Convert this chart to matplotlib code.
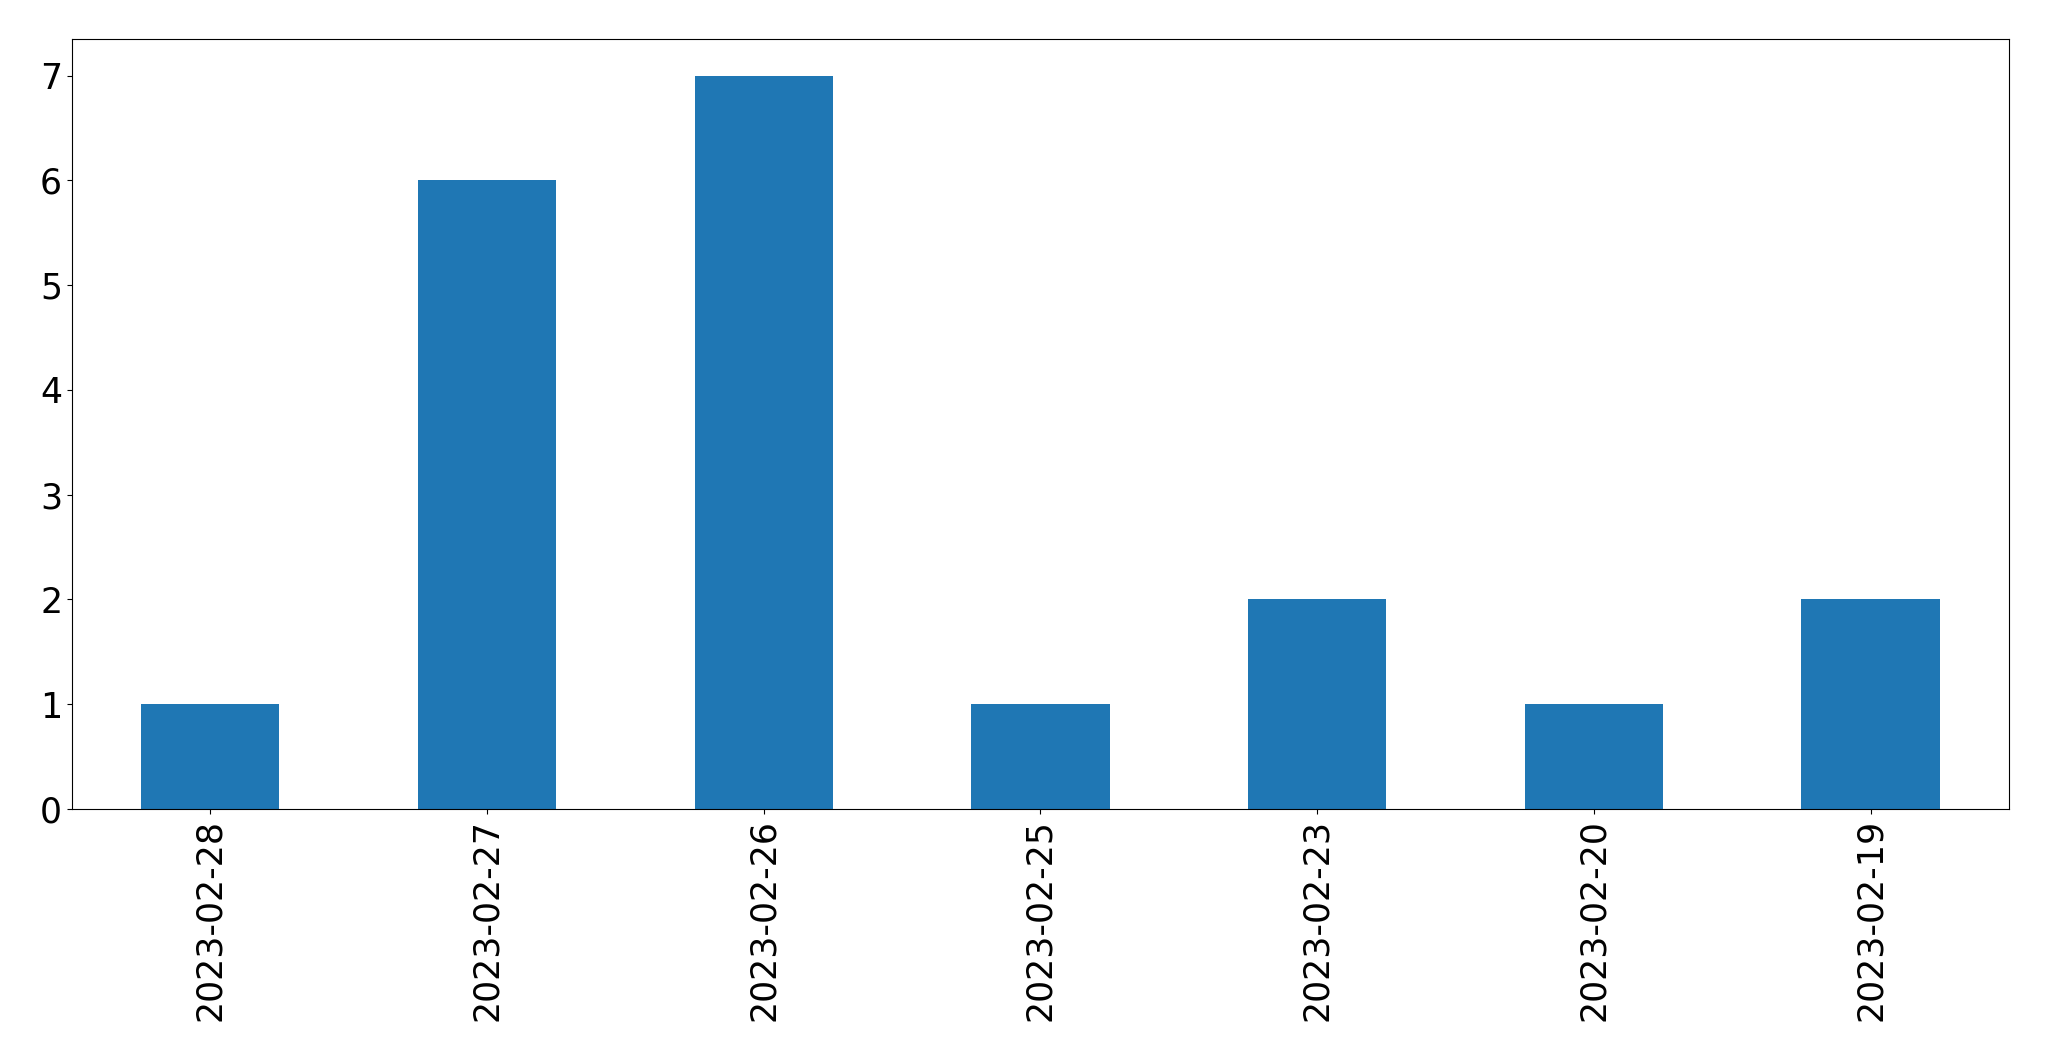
import pandas as pd
import matplotlib.pyplot as plt

dates = ['2023-02-28', '2023-02-27', '2023-02-26', '2023-02-25',
         '2023-02-23', '2023-02-20', '2023-02-19']
counts = [1, 6, 7, 1, 2, 1, 2]

s = pd.Series(counts, index=dates)

fig = plt.figure(figsize=(20.49, 10.61), dpi=100)
ax = fig.add_axes([0.0351, 0.2375, 0.9454, 0.7257])
s.plot(kind='bar', ax=ax, color='#1f77b4', fontsize=25)
ax.tick_params(axis='x', labelrotation=90)

fig.savefig('out.png', dpi=100)
